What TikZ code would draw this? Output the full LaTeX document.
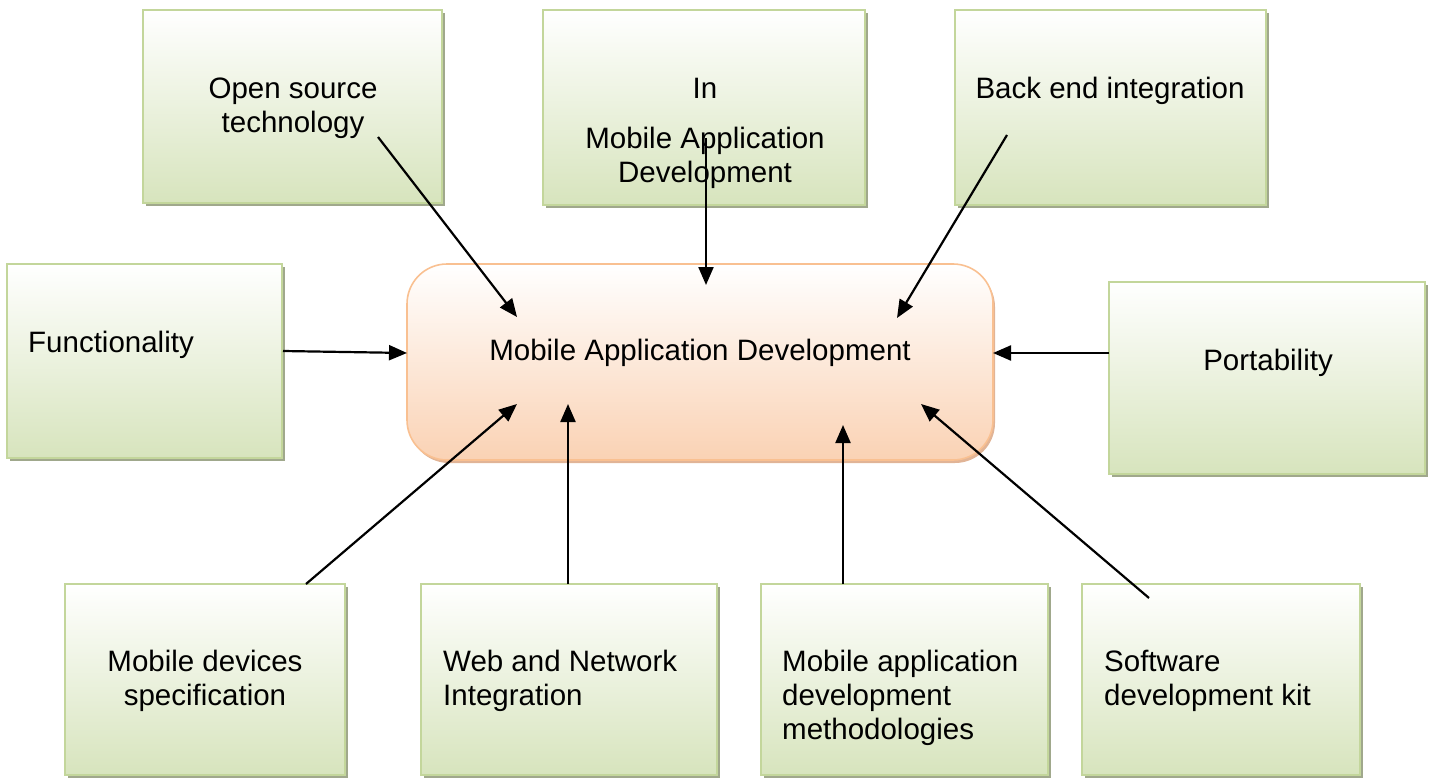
\documentclass[tikz,border=0pt]{standalone}
\usepackage{fontspec}
\setmainfont{Liberation Sans}
\usetikzlibrary{arrows.meta,shadows}
\definecolor{gborder}{RGB}{195,214,155}
\definecolor{gbottom}{RGB}{215,228,189}
\definecolor{gshadow}{RGB}{160,168,140}
\definecolor{oborder}{RGB}{249,192,145}
\definecolor{obottom}{RGB}{250,210,180}
\definecolor{oshadow}{RGB}{225,180,150}
\tikzset{
  gbox/.style={draw=gborder, line width=1.6pt,
    top color=white, bottom color=gbottom,
    drop shadow={shadow xshift=3pt, shadow yshift=-3pt, fill=gshadow, opacity=1},
    inner sep=0pt},
  cbox/.style={draw=oborder, line width=1.6pt, rounded corners=40pt,
    top color=white, bottom color=obottom,
    drop shadow={shadow xshift=2pt, shadow yshift=-3pt, fill=oshadow, opacity=1},
    inner sep=0pt},
  txt/.style={font=\fontsize{29.5}{34}\selectfont, inner sep=0pt, text=black},
  link/.style={draw=black, line width=2.2pt, -{Triangle[length=18pt,width=15pt]}}
}
\begin{document}
\begin{tikzpicture}[x=1pt,y=-1pt]
\useasboundingbox (0,0) rectangle (1429,778);

% boxes
\node[gbox, minimum width=299pt, minimum height=193pt] (os)   at (292.5,106.5) {};
\node[gbox, minimum width=322pt, minimum height=195pt] (inm)  at (704,107.5) {};
\node[gbox, minimum width=311pt, minimum height=195pt] (be)   at (1110.5,107.5) {};
\node[gbox, minimum width=275pt, minimum height=194pt] (func) at (144.5,361) {};
\node[cbox, minimum width=586pt, minimum height=196pt] (mad)  at (700,362) {};
\node[gbox, minimum width=316pt, minimum height=192pt] (port) at (1267,378) {};
\node[gbox, minimum width=280pt, minimum height=191pt] (mds)  at (205,679.5) {};
\node[gbox, minimum width=296pt, minimum height=191pt] (wni)  at (569,679.5) {};
\node[gbox, minimum width=287pt, minimum height=191pt] (madm) at (904.5,679.5) {};
\node[gbox, minimum width=278pt, minimum height=191pt] (sdk)  at (1221,679.5) {};

% labels
\node[txt, align=center] (tos) at (293,108) {Open source\\technology};
\node[txt, align=center] (tin) at (705,133) {In\\[16pt]Mobile Application\\Development};
\node[txt] (tbe) at (1110,91) {Back end integration};
\node[txt, anchor=west] (tfu) at (28,345) {Functionality};
\node[txt] (tmad) at (700,353) {Mobile Application Development};
\node[txt] (tpo) at (1268,363) {Portability};
\node[txt, align=center] (tmd) at (205,681) {Mobile devices\\specification};
\node[txt, align=left, anchor=west] (twn) at (443,681) {Web and Network\\Integration};
\node[txt, align=left, anchor=west] (tmm) at (782,698) {Mobile application\\development\\methodologies};
\node[txt, align=left, anchor=west] (tsd) at (1104,681) {Software\\development kit};

% connector ends
\coordinate (osA) at (378,137);   \coordinate (osB) at (517,317);
\coordinate (inA) at (706,138);   \coordinate (inB) at (706,285);
\coordinate (beA) at (1007,135);  \coordinate (beB) at (897,318);
\coordinate (fuA) at (283,351);   \coordinate (fuB) at (407,353);
\coordinate (poA) at (1109,353);  \coordinate (poB) at (993,353);
\coordinate (mdA) at (306,584);   \coordinate (mdB) at (517,404);
\coordinate (wnA) at (568,584);   \coordinate (wnB) at (568,404);
\coordinate (mmA) at (843,584);   \coordinate (mmB) at (843,425);
\coordinate (sdA) at (1149,598);  \coordinate (sdB) at (921,404);

% connectors
\draw[link] (osA) -- (osB);
\draw[link] (inA) -- (inB);
\draw[link] (beA) -- (beB);
\draw[link] (fuA) -- (fuB);
\draw[link] (poA) -- (poB);
\draw[link] (mdA) -- (mdB);
\draw[link] (wnA) -- (wnB);
\draw[link] (mmA) -- (mmB);
\draw[link] (sdA) -- (sdB);
\end{tikzpicture}
\end{document}
